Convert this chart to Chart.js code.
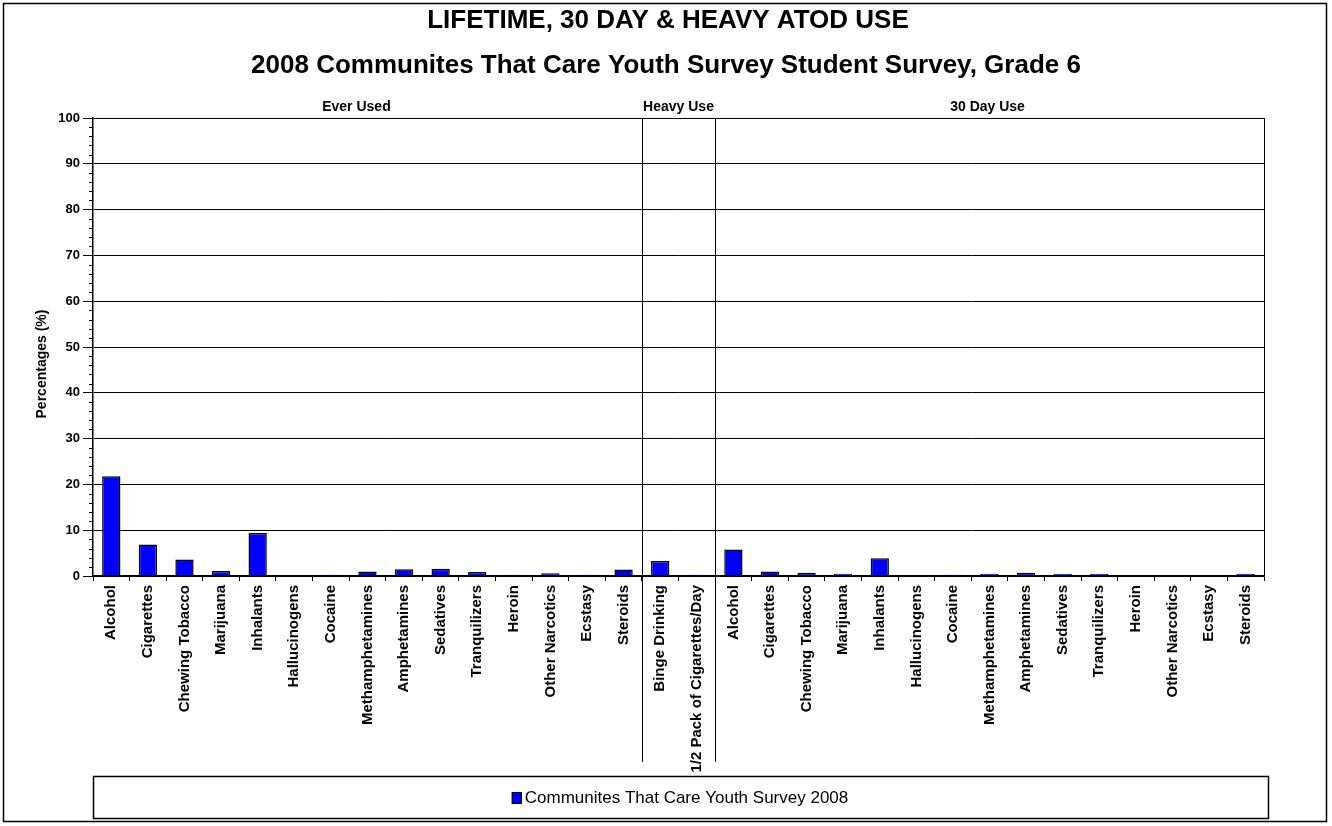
<!DOCTYPE html>
<html>
<head>
<meta charset="utf-8">
<script src="https://cdn.jsdelivr.net/npm/chart.js@4.4.1/dist/chart.umd.min.js"></script>
<style>
  html, body { margin: 0; padding: 0; background: #fff; }
  #wrap { width: 1332px; height: 826px; position: relative; }
</style>
</head>
<body>
<div id="wrap"><canvas id="atodChart"></canvas></div>
<script>
// Textes du graphique
const titleText = 'LIFETIME, 30 DAY & HEAVY ATOD USE';
const subtitleText = '2008 Communites That Care Youth Survey Student Survey, Grade 6';
const seriesName = 'Communites That Care Youth Survey 2008';
const yTitle = 'Percentages (%)';
const groupNames = ['Ever Used', 'Heavy Use', '30 Day Use'];

// Catégories
const drugNames = ['Alcohol', 'Cigarettes', 'Chewing Tobacco', 'Marijuana', 'Inhalants', 'Hallucinogens',
  'Cocaine', 'Methamphetamines', 'Amphetamines', 'Sedatives', 'Tranquilizers', 'Heroin',
  'Other Narcotics', 'Ecstasy', 'Steroids'];
const heavyNames = ['Binge Drinking', '1/2 Pack of Cigarettes/Day'];

// Valeurs (%)
const everUsed = [21.8, 6.9, 3.6, 1.1, 9.4, 0, 0.3, 1.0, 1.5, 1.6, 0.9, 0.3, 0.6, 0.3, 1.4];
const heavyUse = [3.3, 0.3];
const thirtyDay = [5.8, 1.0, 0.7, 0.5, 3.9, 0, 0.3, 0.5, 0.7, 0.5, 0.5, 0, 0, 0, 0.5];

// Axe Y
const yMin = 0;
const yMax = 100;
const yStep = 10;
const yMinorStep = 2;

const labels = drugNames.concat(heavyNames, drugNames);
const values = everUsed.concat(heavyUse, thirtyDay);
const groupSizes = [everUsed.length, heavyUse.length, thirtyDay.length];

const FONT = "'Liberation Sans', Arial, sans-serif";

// Dessin des éléments décoratifs (cadre, titres, séparateurs, légende)
const decorPlugin = {
  id: 'decor',
  afterDraw(chart) {
    const ctx = chart.ctx;
    const area = chart.chartArea;
    const xs = chart.scales.x;
    const ys = chart.scales.y;
    ctx.save();

    // cadre extérieur
    ctx.strokeStyle = '#000';
    ctx.lineWidth = 1.5;
    ctx.strokeRect(3.5, 3.5, 1323, 818);

    // titres
    ctx.fillStyle = '#000';
    ctx.textAlign = 'center';
    ctx.textBaseline = 'middle';
    ctx.font = 'bold 26px ' + FONT;
    ctx.fillText(titleText, 668, 21);
    ctx.fillText(subtitleText, 666, 66);

    // bordure droite de la zone de tracé
    ctx.lineWidth = 1;
    ctx.beginPath();
    ctx.moveTo(area.right + 0.5, area.top);
    ctx.lineTo(area.right + 0.5, area.bottom);
    ctx.stroke();

    // séparateurs de groupes + en-têtes (le premier en-tête est un peu décalé à gauche)
    const headerShift = [-11, 0, -2];
    ctx.font = 'bold 14px ' + FONT;
    let start = 0;
    groupSizes.forEach((n, i) => {
      const x0 = xs.getPixelForValue(start - 0.5);
      const x1 = xs.getPixelForValue(start + n - 0.5);
      ctx.fillText(groupNames[i], (x0 + x1) / 2 + headerShift[i], 107);
      if (i < groupSizes.length - 1) {
        ctx.beginPath();
        ctx.moveTo(Math.round(x1) + 0.5, area.top);
        ctx.lineTo(Math.round(x1) + 0.5, 762);
        ctx.stroke();
      }
      start += n;
    });

    // petites graduations de l'axe Y
    for (let v = yMin; v <= yMax; v += yMinorStep) {
      if (v % yStep === 0) continue;
      const y = Math.round(ys.getPixelForValue(v)) + 0.5;
      ctx.beginPath();
      ctx.moveTo(area.left - 4, y);
      ctx.lineTo(area.left, y);
      ctx.stroke();
    }

    // titre de l'axe Y
    ctx.save();
    ctx.translate(42, 364);
    ctx.rotate(-Math.PI / 2);
    ctx.font = 'bold 14px ' + FONT;
    ctx.fillText(yTitle, 0, 0);
    ctx.restore();

    // légende
    ctx.lineWidth = 1.5;
    ctx.strokeRect(93.5, 776.5, 1175, 42);
    ctx.font = '17px ' + FONT;
    const tw = ctx.measureText(seriesName).width;
    const lx = 680 - (tw + 13) / 2;
    ctx.fillStyle = '#0000FF';
    ctx.fillRect(lx, 792, 10, 12);
    ctx.lineWidth = 1;
    ctx.strokeRect(lx + 0.5, 792.5, 9, 11);
    ctx.fillStyle = '#000';
    ctx.textAlign = 'left';
    ctx.fillText(seriesName, lx + 13, 798);

    ctx.restore();
  }
};

function initChart() {
  const el = document.getElementById('atodChart');
  if (typeof Chart === 'undefined') {
    console.error('Chart.js n\'est pas chargé');
    return;
  }
  new Chart(el, {
    type: 'bar',
    data: {
      labels: labels,
      datasets: [{
        label: seriesName,
        data: values,
        backgroundColor: '#0000FF',
        borderColor: '#000',
        borderWidth: 1.5,
        barPercentage: 0.5,
        categoryPercentage: 1
      }]
    },
    options: {
      responsive: true,
      maintainAspectRatio: false,
      animation: false,
      devicePixelRatio: 1,
      layout: { padding: { top: 118, right: 68, left: 0, bottom: 0 } },
      plugins: {
        legend: { display: false },
        title: { display: false },
        tooltip: { enabled: false }
      },
      scales: {
        x: {
          grid: { drawOnChartArea: false, offset: true, color: '#000', tickLength: 5 },
          border: { color: '#000', width: 1.5 },
          ticks: {
            autoSkip: false, minRotation: 90, maxRotation: 90, padding: 4,
            color: '#000', font: { family: FONT, size: 15, weight: 'bold' }
          },
          afterFit(s) { s.height = 250; }
        },
        y: {
          min: yMin, max: yMax,
          grid: { color: '#000', tickLength: 10 },
          border: { color: '#000', width: 1.5 },
          ticks: {
            stepSize: yStep, padding: 3,
            color: '#000', font: { family: FONT, size: 13, weight: 'bold' }
          },
          afterFit(s) { s.width = 93; }
        }
      }
    },
    plugins: [decorPlugin]
  });
}

document.addEventListener('DOMContentLoaded', initChart);
</script>
</body>
</html>
